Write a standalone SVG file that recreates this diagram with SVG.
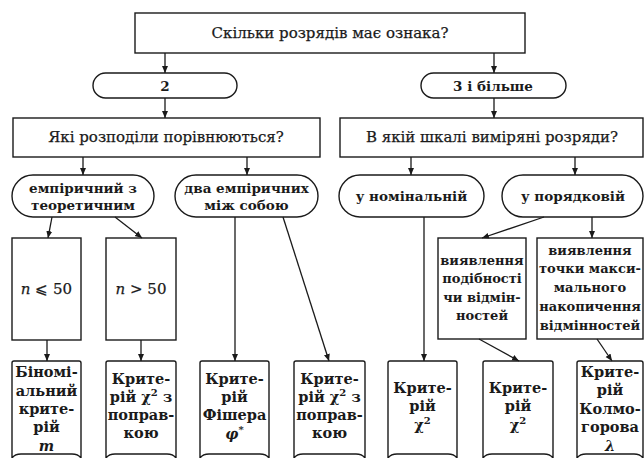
<svg xmlns="http://www.w3.org/2000/svg" width="644" height="458" viewBox="0 0 644 458">
<style>
.b{fill:#fff;stroke:#1a1a1a;stroke-width:1.4}
.c{fill:none;stroke:#1a1a1a;stroke-width:1.3}
.t{font-family:"DejaVu Serif","Liberation Serif",serif;font-size:15px;fill:#1a1a1a;stroke:#1a1a1a;stroke-width:0.25;text-anchor:middle}
.tb{font-family:"DejaVu Serif","Liberation Serif",serif;font-size:13.5px;font-weight:bold;fill:#1a1a1a;text-anchor:middle}
.tv{font-family:"DejaVu Serif","Liberation Serif",serif;font-size:13px;font-weight:bold;fill:#1a1a1a;text-anchor:middle}
.tc{font-family:"DejaVu Serif","Liberation Serif",serif;font-size:14.5px;font-weight:bold;fill:#1a1a1a;text-anchor:middle}
.i{font-style:italic}
</style>
<defs>
<marker id="ah" markerWidth="8" markerHeight="8" refX="7" refY="4" orient="auto" markerUnits="userSpaceOnUse">
<path d="M0,1 L7,4 L0,7 Z" fill="#1a1a1a"/>
</marker>
</defs>
<g id="q1"><rect class="b" x="135" y="13" width="390" height="40"/><text class="t" x="330" y="38">Скільки розрядів має ознака?</text></g>
<g id="p2"><rect class="b" x="93" y="73" width="144" height="25" rx="12.5"/><text class="tb" x="165" y="91" font-size="14">2</text></g>
<g id="p3"><rect class="b" x="421" y="73" width="145" height="25" rx="12.5"/><text class="tb" x="493" y="91" font-size="14">3 і більше</text></g>
<g id="q2"><rect class="b" x="13" y="118" width="307" height="39"/><text class="t" x="166" y="142">Які розподіли порівнюються?</text></g>
<g id="q3"><rect class="b" x="340" y="118" width="303" height="39"/><text class="t" x="492" y="142">В якій шкалі виміряні розряди?</text></g>
<g id="pe"><rect class="b" x="12" y="175" width="142" height="42" rx="21"/><text class="tb" x="83" y="193">емпіричний з</text><text class="tb" x="83" y="210">теоретичним</text></g>
<g id="pd"><rect class="b" x="175" y="175" width="143" height="42" rx="21"/><text class="tb" x="246.5" y="193">два емпіричних</text><text class="tb" x="246.5" y="210">між собою</text></g>
<g id="pn"><rect class="b" x="339" y="175" width="145" height="42" rx="21"/><text class="tb" x="411.5" y="201">у номінальній</text></g>
<g id="pp"><rect class="b" x="502" y="175" width="141" height="42" rx="21"/><text class="tb" x="573" y="201">у порядковій</text></g>
<g id="n1"><rect class="b" x="12" y="238" width="69" height="102"/><text class="t" x="46.5" y="294" font-size="17" stroke-width="0"><tspan class="i">n</tspan> ⩽ 50</text></g>
<g id="n2"><rect class="b" x="106" y="238" width="70" height="102"/><text class="t" x="141" y="294" font-size="17" stroke-width="0"><tspan class="i">n</tspan> &gt; 50</text></g>
<g id="v1"><rect class="b" x="438" y="238" width="88" height="101"/>
<text class="tv" x="482" y="265">виявлення</text><text class="tv" x="482" y="283">подібності</text><text class="tv" x="482" y="302">чи відмін-</text><text class="tv" x="482" y="320">ностей</text></g>
<g id="v2"><rect class="b" x="537" y="238" width="106" height="101"/>
<text class="tv" x="590" y="255">виявлення</text><text class="tv" x="590" y="273">точки макси-</text><text class="tv" x="590" y="292">мального</text><text class="tv" x="590" y="311">накопичення</text><text class="tv" x="590" y="330">відмінностей</text></g>
<g id="r1"><path class="b" d="M12,458 L12,363 Q12,361 14,361 L79,361 Q81,361 81,363 L81,458 Q78,454 72,454 L21,454 Q15,454 12,458 Z"/>
<text class="tc" x="46.5" y="377">Біномі-</text><text class="tc" x="46.5" y="396">альний</text><text class="tc" x="46.5" y="414">крите-</text><text class="tc" x="46.5" y="432">рій</text><text class="tc i" x="46.5" y="451" font-weight="normal">m</text></g>
<g id="r2"><path class="b" d="M106,458 L106,363 Q106,361 108,361 L174,361 Q176,361 176,363 L176,458 Q173,454 167,454 L115,454 Q109,454 106,458 Z"/>
<text class="tc" x="141" y="384">Крите-</text><text class="tc" x="141" y="402">рій χ<tspan dy="-6" font-size="10">2</tspan><tspan dy="6"> з</tspan></text><text class="tc" x="141" y="420">поправ-</text><text class="tc" x="141" y="438">кою</text></g>
<g id="r3"><path class="b" d="M200,458 L200,363 Q200,361 202,361 L267,361 Q269,361 269,363 L269,458 Q266,454 260,454 L209,454 Q203,454 200,458 Z"/>
<text class="tc" x="234.5" y="384">Крите-</text><text class="tc" x="234.5" y="402">рій</text><text class="tc" x="234.5" y="420">Фішера</text><text class="tc" x="234.5" y="439" font-weight="normal"><tspan class="i">φ</tspan><tspan dy="-6" font-size="10">*</tspan></text></g>
<g id="r4"><path class="b" d="M294,458 L294,363 Q294,361 296,361 L363,361 Q365,361 365,363 L365,458 Q362,454 356,454 L303,454 Q297,454 294,458 Z"/>
<text class="tc" x="329.5" y="384">Крите-</text><text class="tc" x="329.5" y="402">рій χ<tspan dy="-6" font-size="10">2</tspan><tspan dy="6"> з</tspan></text><text class="tc" x="329.5" y="420">поправ-</text><text class="tc" x="329.5" y="438">кою</text></g>
<g id="r5"><path class="b" d="M388,458 L388,363 Q388,361 390,361 L455,361 Q457,361 457,363 L457,458 Q454,454 448,454 L397,454 Q391,454 388,458 Z"/>
<text class="tc" x="422.5" y="393">Крите-</text><text class="tc" x="422.5" y="411">рій</text><text class="tc" x="422.5" y="430" font-weight="normal">χ<tspan dy="-6" font-size="10">2</tspan></text></g>
<g id="r6"><path class="b" d="M483,458 L483,363 Q483,361 485,361 L551,361 Q553,361 553,363 L553,458 Q550,454 544,454 L492,454 Q486,454 483,458 Z"/>
<text class="tc" x="518" y="393">Крите-</text><text class="tc" x="518" y="411">рій</text><text class="tc" x="518" y="430" font-weight="normal">χ<tspan dy="-6" font-size="10">2</tspan></text></g>
<g id="r7"><path class="b" d="M577,458 L577,363 Q577,361 579,361 L641,361 Q643,361 643,363 L643,458 Q640,454 634,454 L586,454 Q580,454 577,458 Z"/>
<text class="tc" x="610" y="377">Крите-</text><text class="tc" x="610" y="395">рій</text><text class="tc" x="610" y="414">Колмо-</text><text class="tc" x="610" y="432">горова</text><text class="tc i" x="610" y="451" font-weight="normal">λ</text></g>
<g id="connectors">
<path class="c" marker-end="url(#ah)" d="M165,53 L165,73"/>
<path class="c" marker-end="url(#ah)" d="M494,53 L494,73"/>
<path class="c" marker-end="url(#ah)" d="M165,98 L165,118"/>
<path class="c" marker-end="url(#ah)" d="M494,98 L494,118"/>
<path class="c" marker-end="url(#ah)" d="M83,157 L83,175"/>
<path class="c" marker-end="url(#ah)" d="M247,157 L247,175"/>
<path class="c" marker-end="url(#ah)" d="M411,157 L411,175"/>
<path class="c" marker-end="url(#ah)" d="M575,157 L575,175"/>
<path class="c" marker-end="url(#ah)" d="M52,217 L48,238"/>
<path class="c" marker-end="url(#ah)" d="M115,217 L142,238"/>
<path class="c" marker-end="url(#ah)" d="M235,217 L235,361"/>
<path class="c" marker-end="url(#ah)" d="M283,217 L329,361"/>
<path class="c" marker-end="url(#ah)" d="M424,217 L424,361"/>
<path class="c" marker-end="url(#ah)" d="M544,217 L482,238"/>
<path class="c" marker-end="url(#ah)" d="M592,217 L592,238"/>
<path class="c" marker-end="url(#ah)" d="M47,340 L47,361"/>
<path class="c" marker-end="url(#ah)" d="M141,340 L141,361"/>
<path class="c" marker-end="url(#ah)" d="M479,339 L519,361"/>
<path class="c" marker-end="url(#ah)" d="M597,339 L612,361"/>
</g>
</svg>
